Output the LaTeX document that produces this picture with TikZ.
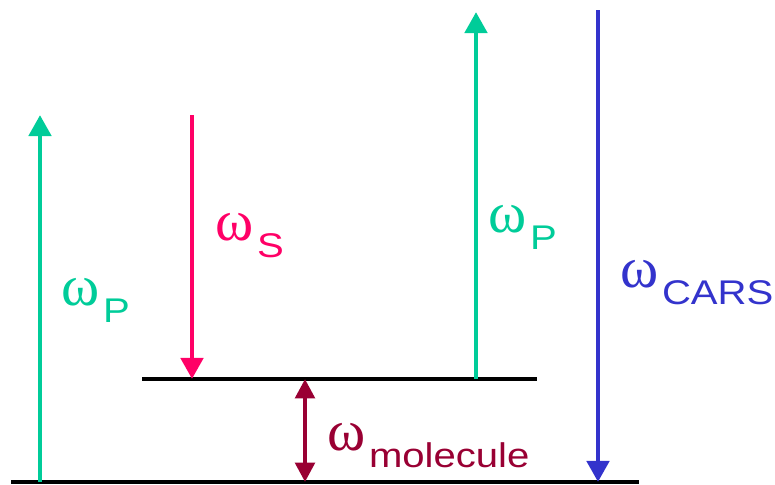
\documentclass[tikz,border=0pt]{standalone}
\usepackage{fontspec}
\setmainfont{Liberation Sans}
\newfontfamily\omfont{Liberation Serif}
\usetikzlibrary{arrows.meta}
\definecolor{pumpgreen}{RGB}{0,204,153}
\definecolor{stokesred}{RGB}{255,0,102}
\definecolor{carsblue}{RGB}{51,51,204}
\definecolor{molred}{RGB}{153,0,51}
\newcommand{\omlabel}[1]{{\fontsize{33}{33}\selectfont\omfont ω}\hspace{2pt}\raisebox{-10pt}{\scalebox{1.17}[1]{\fontsize{19.5}{19.5}\selectfont #1}}}

\begin{document}
\begin{tikzpicture}[
    x=0.02cm, y=-0.02cm,
    level/.style={draw=black, line width=2pt},
    beam/.style={line width=2.8pt, -{Triangle[width=12.5pt,length=12pt]}},
    lbl/.style={anchor=base west, inner sep=0pt}
  ]
    \useasboundingbox (0,0) rectangle (775,484);

    % Niveaux
    \coordinate (groundW) at (11,482);
    \coordinate (groundE) at (639,482);
    \coordinate (virtW) at (142,379);
    \coordinate (virtE) at (537,379);
    \draw[level] (groundW) -- (groundE);
    \draw[level] (virtW) -- (virtE);

    % Extremites des faisceaux
    \coordinate (pumpA0) at (40,482);
    \coordinate (pumpA1) at (40,115);
    \coordinate (stokes0) at (192,115);
    \coordinate (stokes1) at (192,379);
    \coordinate (pumpB0) at (476,379);
    \coordinate (pumpB1) at (476,12);
    \coordinate (cars0) at (598,10);
    \coordinate (cars1) at (598,482);
    \coordinate (mol0) at (305,379);
    \coordinate (mol1) at (305,482);

    % Faisceaux
    \draw[beam, pumpgreen] (pumpA0) -- (pumpA1);
    \draw[beam, stokesred] (stokes0) -- (stokes1);
    \draw[beam, pumpgreen] (pumpB0) -- (pumpB1);
    \draw[beam, carsblue] (cars0) -- (cars1);
    \draw[molred, line width=2.4pt,
      {Triangle[width=11pt,length=11pt]}-{Triangle[width=11pt,length=11pt]}]
      (mol0) -- (mol1);

    % Etiquettes
    \node[lbl, pumpgreen] (lblPumpA) at (61,305) {\omlabel{P}};
    \node[lbl, stokesred] (lblStokes) at (215,240) {\omlabel{S}};
    \node[lbl, pumpgreen] (lblPumpB) at (488,232) {\omlabel{P}};
    \node[lbl, carsblue] (lblCars) at (620,287) {\omlabel{CARS}};
    \node[lbl, molred] (lblMol) at (327,450) {\omlabel{molecule}};

\end{tikzpicture}
\end{document}
